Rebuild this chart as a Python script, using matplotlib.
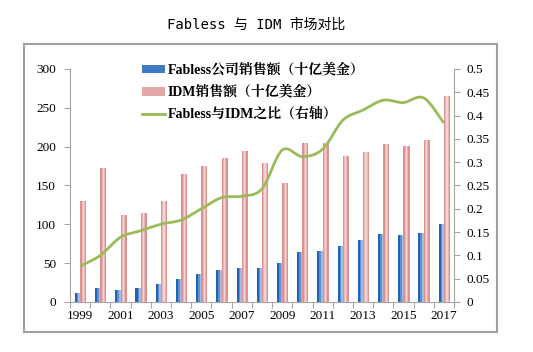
import numpy as np
import matplotlib
matplotlib.use('Agg')
import matplotlib.pyplot as plt
from matplotlib.path import Path
from matplotlib.patches import PathPatch, Rectangle, Patch
from matplotlib.lines import Line2D

# data
years = list(range(1999, 2018))
fabless = [11, 18, 15.5, 18, 23, 29.5, 35.5, 41, 44, 44, 50, 64, 66, 72, 80, 88, 86, 89, 100]
idm = [129.5, 173, 112, 114, 129.5, 164.5, 174.5, 186, 195, 179, 153, 204.5, 204.5, 187.5, 193.5, 203.5, 201.5, 208, 265]
ratio = [0.077, 0.100, 0.139, 0.153, 0.167, 0.176, 0.200, 0.224, 0.227, 0.243, 0.326,
         0.312, 0.328, 0.390, 0.412, 0.433, 0.428, 0.438, 0.384]
left_ticks = [0, 50, 100, 150, 200, 250, 300]
right_ticks = [0, 0.05, 0.1, 0.15, 0.2, 0.25, 0.3, 0.35, 0.4, 0.45, 0.5]
right_labels = ['0', '0.05', '0.1', '0.15', '0.2', '0.25', '0.3', '0.35', '0.4', '0.45', '0.5']
labels = ['Fabless公司销售额（十亿美金）', 'IDM销售额（十亿美金）', 'Fabless与IDM之比（右轴）']

serif = ['Liberation Serif', 'Noto Serif CJK SC', 'Noto Sans CJK SC']
gray = '#a6a6a6'

fig = plt.figure(figsize=(5.33, 3.52), dpi=100)
fig.patches.append(Rectangle((24 / 533, 1 - 332 / 352), 473 / 533, 288 / 352,
                             transform=fig.transFigure, fill=False,
                             edgecolor='#a0a0a0', lw=1.5))
fig.text(256 / 533, 1 - 25 / 352, 'Fabless 与 IDM 市场对比', ha='center', va='center',
         fontsize=10, family=['DejaVu Sans Mono', 'Noto Sans CJK SC'])

ax = fig.add_axes([70 / 533, 1 - 302 / 352, 384 / 533, 233 / 352])
x = np.arange(len(years))

# bars with a rough gradient look
ax.bar(x - 0.13, fabless, width=0.26, color='#1f64b8', zorder=2)
ax.bar(x - 0.08, fabless, width=0.16, color='#5f8fcf', zorder=3)
ax.bar(x - 0.04, fabless, width=0.08, color='#a3bde2', zorder=4)
ax.bar(x + 0.15, idm, width=0.30, color='#db9292', zorder=2)
ax.bar(x + 0.15, idm, width=0.16, color='#eab5b5', zorder=3)
ax.bar(x + 0.15, idm, width=0.06, color='#f4d2d2', zorder=4)

ax.set_xlim(-0.5, len(years) - 0.5)
ax.set_ylim(0, 300)
ax.set_yticks(left_ticks)
ax.set_yticklabels([str(t) for t in left_ticks], family=serif, fontsize=9.5)
ax.set_xticks(np.arange(len(years) + 1) - 0.5)
ax.set_xticklabels([])
ax.set_xticks(x[::2], minor=True)
ax.set_xticklabels([str(y) for y in years[::2]], minor=True, family=serif, fontsize=9.5)
ax.tick_params(axis='x', which='major', length=4, color=gray, direction='out')
ax.tick_params(axis='x', which='minor', length=0, pad=6)
ax.tick_params(axis='y', length=4, color=gray, pad=6)
for s in ['top', 'right']:
    ax.spines[s].set_visible(False)
for s in ['left', 'bottom']:
    ax.spines[s].set_color(gray)

ax2 = ax.twinx()
ax2.set_ylim(0, 0.5)
ax2.set_yticks(right_ticks)
ax2.set_yticklabels(right_labels, family=serif, fontsize=9.5)
ax2.tick_params(axis='y', length=4, color=gray, pad=5)
for s in ['top', 'left', 'bottom']:
    ax2.spines[s].set_visible(False)
ax2.spines['right'].set_color(gray)

# smoothed ratio line (bezier through the data points)
px = list(x.astype(float))
py = list(ratio)
verts = [(px[0], py[0])]
codes = [Path.MOVETO]
n = len(px)
for i in range(n - 1):
    x0, y0 = (px[i - 1], py[i - 1]) if i > 0 else (px[i], py[i])
    x1, y1 = px[i], py[i]
    x2, y2 = px[i + 1], py[i + 1]
    x3, y3 = (px[i + 2], py[i + 2]) if i + 2 < n else (px[i + 1], py[i + 1])
    verts += [(x1 + (x2 - x0) / 6, y1 + (y2 - y0) / 6),
              (x2 - (x3 - x1) / 6, y2 - (y3 - y1) / 6),
              (x2, y2)]
    codes += [Path.CURVE4] * 3
ax2.add_patch(PathPatch(Path(verts, codes), fill=False, edgecolor='#9bbb59', lw=2, zorder=5))

handles = [Patch(facecolor='#3f78c4', edgecolor='none'),
           Patch(facecolor='#e3a8a8', edgecolor='none'),
           Line2D([], [], color='#9bbb59', lw=2)]
leg = ax2.legend(handles, labels, loc='upper left', bbox_to_anchor=(129 / 533, 1 - 50 / 352),
                 bbox_transform=fig.transFigure, frameon=False, handlelength=1.7,
                 handleheight=0.55, handletextpad=0.2, labelspacing=0.6,
                 prop={'family': serif, 'weight': 'bold', 'size': 10})

fig.savefig('out.png', dpi=100)
